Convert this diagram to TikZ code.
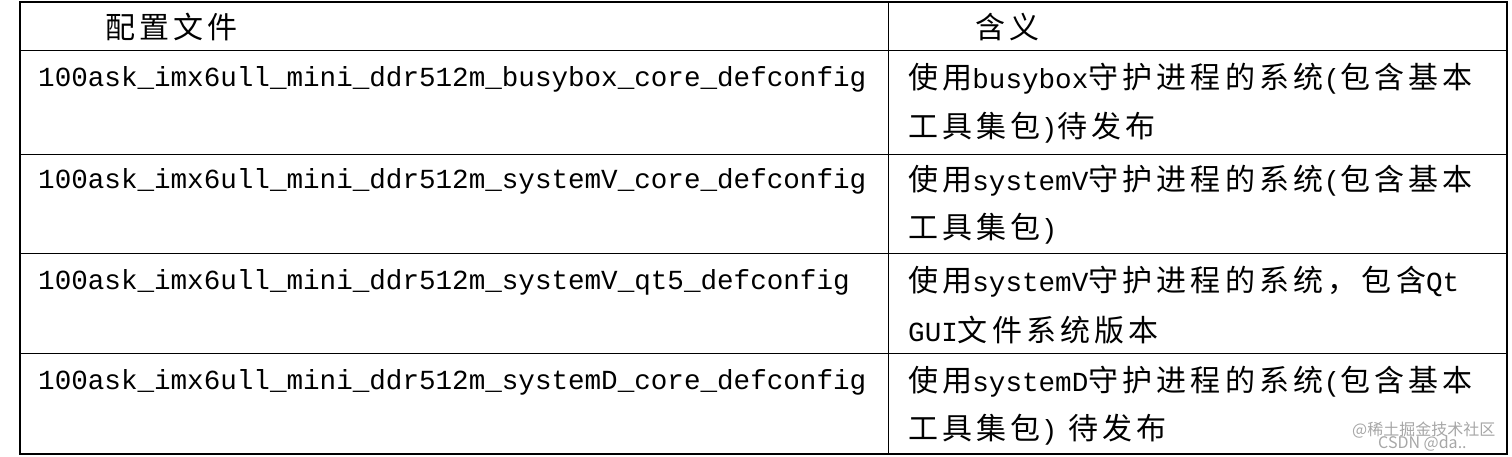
\documentclass[tikz,border=0pt]{standalone}
\usepackage{fontspec}
\setmonofont{Liberation Mono}
\newfontfamily\cjk[LetterSpace=14]{Noto Sans CJK SC}
\newfontfamily\cjkw{Noto Sans CJK SC}
\newcommand{\mtx}[1]{{\ttfamily\fontsize{27.6}{30}\selectfont #1}}
\begin{document}
\begin{tikzpicture}[x=1pt,y=-1pt,
  mono/.style={anchor=west,inner sep=0,font=\fontsize{27.6}{30}\ttfamily},
  zh/.style={anchor=west,inner sep=0,font=\fontsize{30}{32}\cjk},
  wm/.style={anchor=west,inner sep=0,text=gray!70,font=\fontsize{16}{18}\cjkw}]
\useasboundingbox (0,0) rectangle (1512,457);
\draw[line width=1.3] (20,2) rectangle (1507,454);
\foreach \y in {51,155,253,353} \draw[line width=1] (20,\y) -- (1507,\y);
\draw[line width=1] (888,2) -- (888,454);
\node[zh] (h1) at (105,27) {配置文件};
\node[zh] (h2) at (975,27) {含义};
\node[mono] (a1) at (38,79) {100ask\_imx6ull\_mini\_ddr512m\_busybox\_core\_defconfig};
\node[mono] (a2) at (38,181) {100ask\_imx6ull\_mini\_ddr512m\_systemV\_core\_defconfig};
\node[mono] (a3) at (38,282) {100ask\_imx6ull\_mini\_ddr512m\_systemV\_qt5\_defconfig};
\node[mono] (a4) at (38,382) {100ask\_imx6ull\_mini\_ddr512m\_systemD\_core\_defconfig};
\node[zh] (b1) at (908,79) {使用\mtx{busybox}守护进程的系统\mtx{(}包含基本};
\node[zh] (b1b) at (908,128) {工具集包\mtx{)}待发布};
\node[zh] (b2) at (908,181) {使用\mtx{systemV}守护进程的系统\mtx{(}包含基本};
\node[zh] (b2b) at (908,229) {工具集包\mtx{)}};
\node[zh] (b3) at (908,282) {使用\mtx{systemV}守护进程的系统，包含\mtx{Qt}};
\node[zh] (b3b) at (908,330) {\mtx{GUI}文件系统版本};
\node[zh] (b4) at (908,382) {使用\mtx{systemD}守护进程的系统\mtx{(}包含基本};
\node[zh] (b4b) at (908,430) {工具集包\mtx{)} 待发布};
\node[wm] (w1) at (1352,430) {@稀土掘金技术社区};
\node[wm] (w2) at (1378,444) {CSDN @da..};
\end{tikzpicture}
\end{document}
